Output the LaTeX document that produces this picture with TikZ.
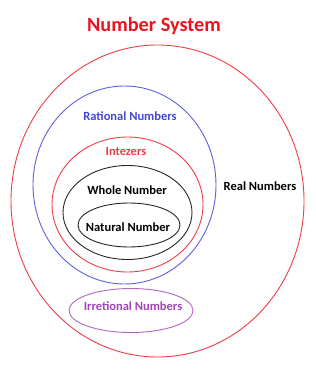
\documentclass[tikz,border=0pt]{standalone}
\usepackage{fontspec}
\setmainfont{Carlito}
\usetikzlibrary{shapes.geometric}
\definecolor{setred}{RGB}{240,60,72}
\definecolor{titlered}{RGB}{235,20,30}
\definecolor{setblue}{RGB}{95,95,225}
\definecolor{textblue}{RGB}{70,70,215}
\definecolor{setpurple}{RGB}{180,100,200}
\definecolor{textpurple}{RGB}{160,70,180}
\begin{document}
\begin{tikzpicture}[x=1pt,y=-1pt,
  setshape/.style={ellipse, draw, line width=0.9pt, inner sep=0pt},
  lbl/.style={font=\bfseries\fontsize{12.5}{14}\selectfont, anchor=base, inner sep=0pt}]
\useasboundingbox[fill=white] (0,0) rectangle (315,371);
\node[lbl, font=\bfseries\fontsize{20.3}{23}\selectfont, text=titlered] (title) at (154,32) {Number System};
\node[setshape, draw=setred, minimum width=293pt, minimum height=312pt] (real) at (157.5,201) {};
\node[setshape, draw=setblue, minimum width=183pt, minimum height=198pt] (rational) at (124.5,185) {};
\node[setshape, draw=setred, minimum width=151pt, minimum height=135pt] (integers) at (127.5,204.5) {};
\node[setshape, draw=black!85, minimum width=129pt, minimum height=94pt] (whole) at (127.5,212.5) {};
\node[setshape, draw=black!85, minimum width=102pt, minimum height=44pt] (natural) at (129,225) {};
\node[setshape, draw=setpurple, minimum width=124pt, minimum height=44pt] (irrational) at (131,310.5) {};
\node[lbl, text=textblue] (rationallbl) at (130,121) {Rational Numbers};
\node[lbl, text=setred] (integerslbl) at (126,156) {Intezers};
\node[lbl, text=black] (wholelbl) at (127,194) {Whole Number};
\node[lbl, text=black] (naturallbl) at (128,231) {Natural Number};
\node[lbl, text=black] (reallbl) at (260,190) {Real Numbers};
\node[lbl, text=textpurple] (irrationallbl) at (133,310) {Irretional Numbers};
\end{tikzpicture}
\end{document}
